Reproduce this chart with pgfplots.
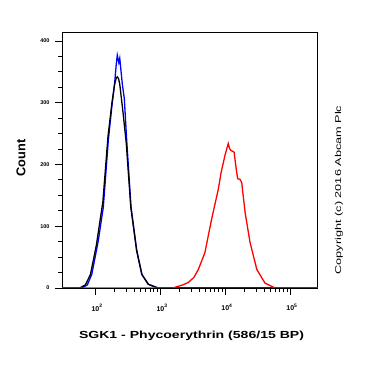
\documentclass[border=0pt]{standalone}
\usepackage{pgfplots}
\pgfplotsset{compat=1.18}
\usepackage{graphicx}
\usepackage{fontspec}
\setmainfont{Liberation Sans}
\begin{document}
\begin{tikzpicture}
\path[use as bounding box] (0,0) rectangle (370bp,370bp);
\begin{axis}[
  at={(62bp,82bp)}, anchor=south west,
  width=256bp, height=255bp, scale only axis,
  xmode=log, xmin=31, xmax=270000,
  ymin=0, ymax=413,
  xtick={100,1000,10000,100000},
  xticklabels={10\textsuperscript{2},10\textsuperscript{3},10\textsuperscript{4},10\textsuperscript{5}},
  ytick={0,100,200,300,400},
  minor y tick num=3,
  tick align=outside,
  tick pos=left,
  major tick length=7bp, minor tick length=4bp,
  tick style={black, line width=0.9bp},
  axis line style={line width=1bp},
  /pgf/number format/assume math mode=true,
  yticklabel style={font=\fontsize{5.5}{6}\selectfont\bfseries, xshift=-2bp},
  xticklabel style={font=\fontsize{7}{8}\selectfont\bfseries, yshift=-6bp, xshift=2bp},
  xlabel={\scalebox{1.37}[1]{SGK1 - Phycoerythrin (586/15 BP)}},
  ylabel={Count},
  xlabel style={font=\fontsize{10.3}{12}\selectfont\bfseries, at={(axis description cs:0.506,-0.188)}, anchor=center},
  ylabel style={font=\fontsize{12.8}{14}\selectfont\bfseries, at={(axis description cs:-0.16,0.51)}, anchor=center},
  clip=true,
]
\addplot[blue, line width=1.3bp] coordinates {
(31,0)(63,0)(76,5)(89,22)(112,76)(134,131)(160,239)(181,293)(200,331)(211,360)(220,377)(232,365)(240,372)(263,330)(282,307)(307,239)(358,131)(437,62)(525,22)(661,6)(933,0)(270000,0)};
\addplot[black, line width=1.3bp] coordinates {
(31,0)(58,0)(71,5)(85,22)(105,70)(132,140)(158,245)(182,300)(200,330)(212,340)(220,342)(230,339)(240,330)(269,285)(302,235)(355,131)(437,60)(525,22)(661,6)(933,0)(270000,0)};
\addplot[red, line width=1.3bp] coordinates {
(31,0)(1585,0)(1807,2)(2239,5)(2723,9)(3311,17)(3890,30)(4898,57)(6237,112)(7889,160)(8710,187)(10000,215)(11220,234)(11749,226)(12303,223)(13804,220)(14791,195)(15668,177)(16982,176)(18072,171)(20417,122)(24266,74)(30903,30)(41210,8)(58884,0)(270000,0)};
\end{axis}
\node[rotate=90, anchor=center, font=\fontsize{8.5}{10}\selectfont] at (339bp,180bp) {\scalebox{1.5}[1]{Copyright (c) 2016 Abcam Plc}};
\end{tikzpicture}
\end{document}
